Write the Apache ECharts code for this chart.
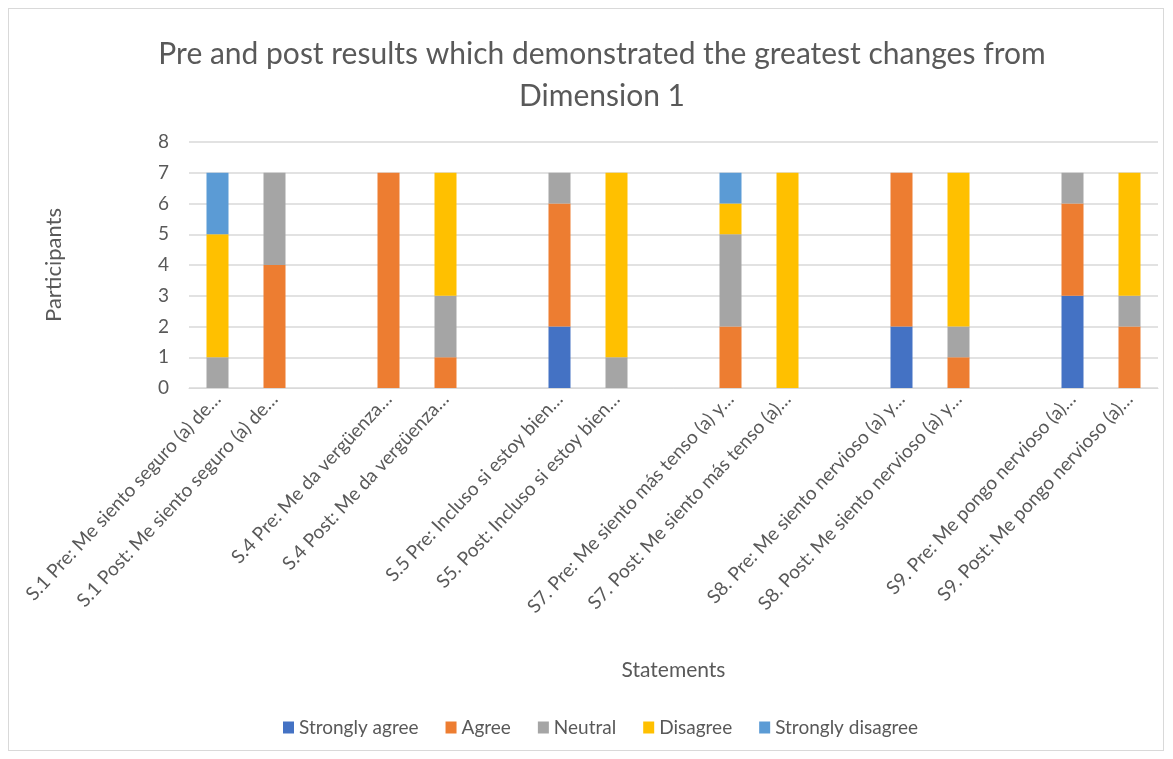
<!DOCTYPE html>
<html>
<head>
<meta charset="utf-8">
<script src="https://cdn.jsdelivr.net/npm/echarts@6/dist/echarts.min.js"></script>
<style>
  html, body { margin: 0; padding: 0; background: #fff; }
  #frame { position: absolute; left: 8px; top: 8px; width: 1156px; height: 743px; border: 1px solid #d9d9d9; box-sizing: border-box; }
  #chart { width: 1173px; height: 759px; }
</style>
</head>
<body>
<div id="frame"></div>
<div id="chart"></div>
<script>
// statements (labels are truncated as in the source chart)
const statements = [
  'S.1 Pre: Me siento seguro (a) de…',
  'S.1 Post: Me siento seguro (a) de…',
  'S.4 Pre: Me da vergüenza…',
  'S.4 Post: Me da vergüenza…',
  'S.5 Pre: Incluso si estoy bien…',
  'S5. Post: Incluso si estoy bien…',
  'S7. Pre: Me siento más tenso (a) y…',
  'S7. Post: Me siento más tenso (a)…',
  'S8. Pre: Me siento nervioso (a) y…',
  'S8. Post: Me siento nervioso (a) y…',
  'S9. Pre: Me pongo nervioso (a)…',
  'S9. Post: Me pongo nervioso (a)…'
]

const seriesNames = ['Strongly agree', 'Agree', 'Neutral', 'Disagree', 'Strongly disagree']
const colors = ['#4472C4', '#ED7D31', '#A5A5A5', '#FFC000', '#5B9BD5']

const stronglyAgree    = [0, 0, 0, 0, 2, 0, 0, 0, 2, 0, 3, 0]
const agree            = [0, 4, 7, 1, 4, 0, 2, 0, 5, 1, 3, 2]
const neutral          = [1, 3, 0, 2, 1, 1, 3, 0, 0, 1, 1, 1]
const disagree         = [4, 0, 0, 4, 0, 6, 1, 7, 0, 5, 0, 4]
const stronglyDisagree = [2, 0, 0, 0, 0, 0, 1, 0, 0, 0, 0, 0]

const yTicks = { min: 0, max: 8, interval: 1 }

// insert an empty category after each pre/post pair
function withGaps(arr, filler) {
  const out = []
  arr.forEach((v, i) => {
    out.push(v)
    if (i % 2 === 1 && i < arr.length - 1) out.push(filler)
  })
  return out
}

const categories = withGaps(statements, '')
const allValues = [stronglyAgree, agree, neutral, disagree, stronglyDisagree]

const textColor = '#595959'
const fontFamily = 'Lato, "Open Sans", sans-serif'

const chart = echarts.init(document.getElementById('chart'))

chart.setOption({
  animation: false,
  textStyle: { fontFamily },
  title: {
    text: 'Pre and post results which demonstrated the greatest changes from\nDimension 1',
    left: 597,
    textAlign: 'center',
    top: 28,
    textStyle: { fontSize: 30, fontWeight: 'normal', color: textColor, lineHeight: 42, fontFamily }
  },
  grid: { left: 189, right: 15, top: 142, bottom: 371 },
  legend: {
    bottom: 17,
    left: 278,
    itemWidth: 11,
    itemHeight: 12,
    itemGap: 27,
    icon: 'rect',
    textStyle: { fontSize: 19, color: textColor, fontFamily }
  },
  xAxis: {
    type: 'category',
    data: categories,
    name: 'Statements',
    nameLocation: 'middle',
    nameGap: 272,
    nameTextStyle: { fontSize: 21, color: textColor, fontFamily },
    axisTick: { show: false },
    axisLine: { lineStyle: { color: '#d9d9d9', width: 1 } },
    axisLabel: { interval: 0, rotate: 47, fontSize: 19, color: textColor, margin: 8, fontFamily }
  },
  yAxis: {
    type: 'value',
    min: yTicks.min,
    max: yTicks.max,
    interval: yTicks.interval,
    name: 'Participants',
    nameLocation: 'middle',
    nameGap: 124,
    nameRotate: 90,
    nameTextStyle: { fontSize: 22, color: textColor, fontFamily },
    axisLine: { show: false },
    axisTick: { show: false },
    axisLabel: { fontSize: 19, color: textColor, margin: 20, fontFamily },
    splitLine: { lineStyle: { color: '#d9d9d9', width: 1.5 } }
  },
  series: seriesNames.map((name, i) => ({
    name,
    type: 'bar',
    stack: 'total',
    barWidth: 22,
    itemStyle: { color: colors[i] },
    data: withGaps(allValues[i], null)
  }))
})
</script>
</body>
</html>
